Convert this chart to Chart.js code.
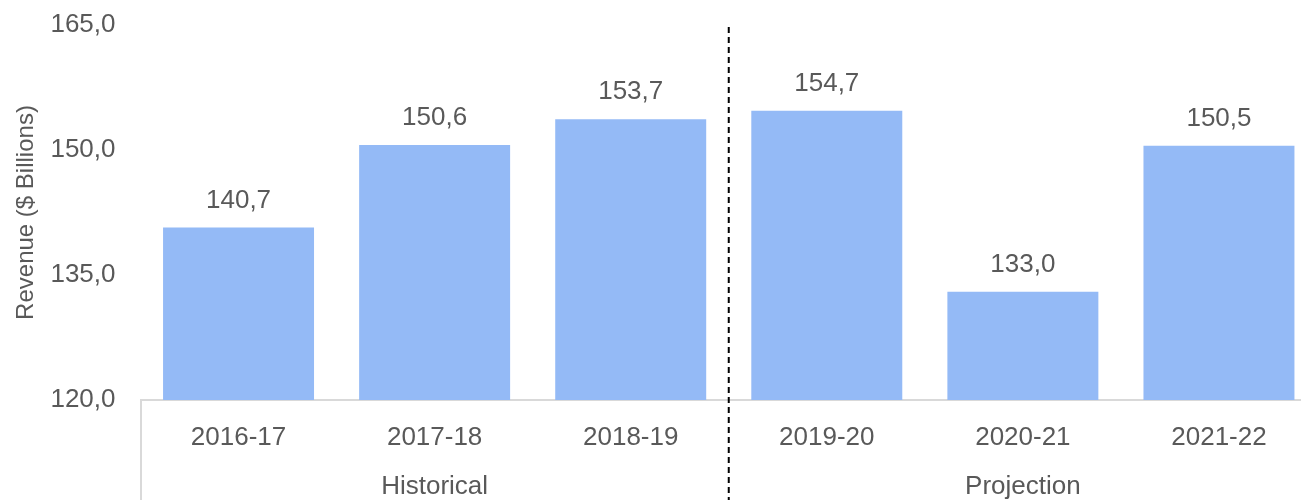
<!DOCTYPE html>
<html>
<head>
<meta charset="utf-8">
<script src="https://cdn.jsdelivr.net/npm/chart.js@4/dist/chart.umd.min.js"></script>
<style>
html,body{margin:0;padding:0;background:#fff;overflow:hidden;width:1301px;height:500px;}
canvas{display:block;}
</style>
</head>
<body>
<canvas id="c" width="1317" height="500"></canvas>
<script>
const categories = ["2016-17","2017-18","2018-19","2019-20","2020-21","2021-22"];
const revenue = [140.7, 150.6, 153.7, 154.7, 133.0, 150.5];
const groups = [
  {label: "Historical", from: 0, to: 2},
  {label: "Projection", from: 3, to: 5}
];
const yTicks = [120, 135, 150, 165];

const FONT = "'Liberation Sans', Arial, sans-serif";
const TXT = "#595959";
const fmt = v => v.toFixed(1).replace('.', ',');

const overlay = {
  id: 'overlay',
  afterDatasetsDraw(chart) {
    const ctx = chart.ctx;
    const x = chart.scales.x;
    const area = chart.chartArea;
    const meta = chart.getDatasetMeta(0);
    ctx.save();
    ctx.font = "26px " + FONT;
    ctx.fillStyle = TXT;
    ctx.textAlign = 'center';
    ctx.textBaseline = 'bottom';
    meta.data.forEach((bar, i) => {
      ctx.fillText(fmt(revenue[i]), bar.x, bar.y - 14);
    });
    const step = x.getPixelForValue(1) - x.getPixelForValue(0);
    ctx.textBaseline = 'middle';
    groups.forEach((g, gi) => {
      const left = x.getPixelForValue(g.from) - step / 2;
      const right = x.getPixelForValue(g.to) + step / 2;
      ctx.fillText(g.label, (left + right) / 2, 487);
      if (gi === 0) {
        ctx.strokeStyle = '#d9d9d9';
        ctx.lineWidth = 2;
        ctx.setLineDash([]);
        ctx.beginPath();
        ctx.moveTo(Math.round(left), area.bottom);
        ctx.lineTo(Math.round(left), 500);
        ctx.stroke();
      } else {
        ctx.strokeStyle = '#000';
        ctx.lineWidth = 2;
        ctx.setLineDash([6, 4]);
        ctx.beginPath();
        ctx.moveTo(left, 27);
        ctx.lineTo(left, 500);
        ctx.stroke();
      }
    });
    ctx.restore();
  }
};

new Chart(document.getElementById('c'), {
  type: 'bar',
  data: {
    labels: categories,
    datasets: [{
      data: revenue,
      backgroundColor: '#94BAF6',
      borderWidth: 0,
      barPercentage: 0.77,
      categoryPercentage: 1.0
    }]
  },
  options: {
    responsive: false,
    animation: false,
    layout: {padding: {top: 25, right: 0, left: 0, bottom: 0}},
    plugins: {legend: {display: false}, tooltip: {enabled: false}},
    scales: {
      x: {
        grid: {display: false, drawTicks: false},
        border: {display: true, color: '#d9d9d9', width: 2},
        ticks: {font: {size: 26, family: FONT}, color: TXT, padding: 22, maxRotation: 0},
        afterFit(s) { s.height = 100; s.paddingLeft = 0; s.paddingRight = 0; }
      },
      y: {
        min: 120, max: 165,
        afterBuildTicks(s) { s.ticks = yTicks.map(v => ({value: v})); },
        grid: {display: false, drawTicks: false},
        border: {display: false},
        ticks: {font: {size: 26, family: FONT}, color: TXT, padding: 25, callback: v => fmt(v)},
        title: {display: true, text: 'Revenue ($ Billions)', font: {size: 24, family: FONT}, color: TXT, padding: {top: 12, bottom: 0}},
        afterFit(s) { s.width = 140.5; s.paddingTop = 0; s.paddingBottom = 0; }
      }
    }
  },
  plugins: [overlay]
});
</script>
</body>
</html>
